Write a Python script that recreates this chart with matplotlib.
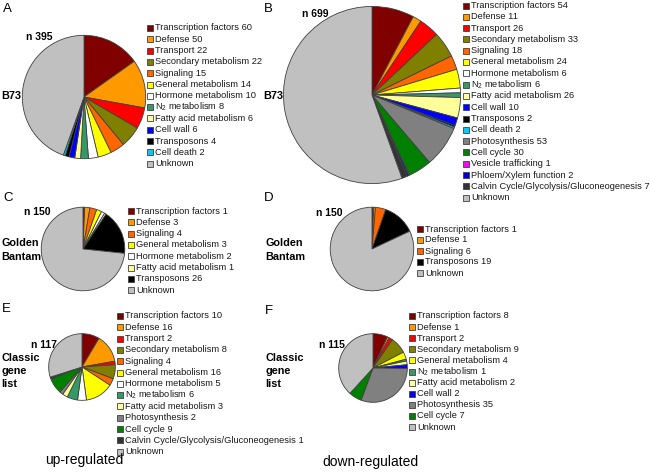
import matplotlib
matplotlib.use('Agg')
import matplotlib.pyplot as plt
from matplotlib.patches import Rectangle

plt.rcParams['font.family'] = ['Liberation Sans', 'DejaVu Sans']
plt.rcParams['mathtext.fontset'] = 'custom'
plt.rcParams['mathtext.rm'] = 'Liberation Sans'
plt.rcParams['mathtext.it'] = 'Liberation Sans:italic'
plt.rcParams['mathtext.bf'] = 'Liberation Sans:bold'

W, H = 650, 472

# ---------------- data ----------------
a_cats = ['Transcription factors', 'Defense', 'Transport', 'Secondary metabolism', 'Signaling',
          'General metabolism', 'Hormone metabolism', 'N2 metabolism', 'Fatty acid metabolism',
          'Cell wall', 'Transposons', 'Cell death']
a_vals = [60, 50, 22, 22, 15, 14, 10, 8, 6, 6, 4, 2]
a_n = 395

b_cats = ['Transcription factors', 'Defense', 'Transport', 'Secondary metabolism', 'Signaling',
          'General metabolism', 'Hormone metabolism', 'N2 metabolism', 'Fatty acid metabolism',
          'Cell wall', 'Transposons', 'Cell death', 'Photosynthesis', 'Cell cycle',
          'Vesicle trafficking', 'Phloem/Xylem function', 'Calvin Cycle/Glycolysis/Gluconeogenesis']
b_vals = [54, 11, 26, 33, 18, 24, 6, 6, 26, 10, 2, 2, 53, 30, 1, 2, 7]
b_n = 699

c_cats = ['Transcription factors', 'Defense', 'Signaling', 'General metabolism', 'Hormone metabolism',
          'Fatty acid metabolism', 'Transposons']
c_vals = [1, 3, 4, 3, 2, 1, 26]
c_n = 150

d_cats = ['Transcription factors', 'Defense', 'Signaling', 'Transposons']
d_vals = [1, 1, 6, 19]
d_n = 150

e_cats = ['Transcription factors', 'Defense', 'Transport', 'Secondary metabolism', 'Signaling',
          'General metabolism', 'Hormone metabolism', 'N2 metabolism', 'Fatty acid metabolism',
          'Photosynthesis', 'Cell cycle', 'Calvin Cycle/Glycolysis/Gluconeogenesis']
e_vals = [10, 16, 2, 8, 4, 16, 5, 6, 3, 2, 9, 1]
e_n = 117

f_cats = ['Transcription factors', 'Defense', 'Transport', 'Secondary metabolism', 'General metabolism',
          'N2 metabolism', 'Fatty acid metabolism', 'Cell wall', 'Photosynthesis', 'Cell cycle']
f_vals = [8, 1, 2, 9, 4, 1, 2, 2, 35, 7]
f_n = 115

panel_letters = ['A', 'B', 'C', 'D', 'E', 'F']
row_labels = [['B73'], ['B73'], ['Golden', 'Bantam'], ['Golden', 'Bantam'],
              ['Classic', 'gene', 'list'], ['Classic', 'gene', 'list']]
col_labels = ['up-regulated', 'down-regulated']

# ---------------- styles ----------------
cat_colors = {
    'Transcription factors': '#800000',
    'Defense': '#FF9900',
    'Transport': '#FF0000',
    'Secondary metabolism': '#808000',
    'Signaling': '#FF6600',
    'General metabolism': '#FFFF00',
    'Hormone metabolism': '#FFFFFF',
    'N2 metabolism': '#339966',
    'Fatty acid metabolism': '#FFFF99',
    'Cell wall': '#0000FF',
    'Transposons': '#000000',
    'Cell death': '#00CCFF',
    'Photosynthesis': '#808080',
    'Cell cycle': '#008000',
    'Vesicle trafficking': '#FF00FF',
    'Phloem/Xylem function': '#0000CC',
    'Calvin Cycle/Glycolysis/Gluconeogenesis': '#333333',
    'Unknown': '#C0C0C0',
}
EDGE = '#404040'

# layout in pixels (top-left origin)
layout = [
    dict(pie=(84, 97, 62), leg=(147, 28, 11.3), letter=(3, 9), nlab=(52, 37), rlab=(1, 96, 14)),
    dict(pie=(372, 95, 89), leg=(463, 5.5, 11.3), letter=(264, 9), nlab=(329, 14), rlab=(263, 96, 14)),
    dict(pie=(83, 249, 42), leg=(128, 211, 11.3), letter=(3, 198), nlab=(51, 212), rlab=(1, 243, 14)),
    dict(pie=(372, 249, 42), leg=(417, 229, 11.0), letter=(264, 198), nlab=(343, 213), rlab=(265, 243, 14)),
    dict(pie=(82, 367, 33.5), leg=(117, 316, 11.3), letter=(2, 309), nlab=(57, 345), rlab=(1, 358, 12.8)),
    dict(pie=(373, 368, 34.5), leg=(409, 316, 11.1), letter=(265, 311), nlab=(345, 345), rlab=(265, 358, 12.8)),
]
col_pos = [(45, 460), (322, 462)]

panels = [(a_cats, a_vals, a_n), (b_cats, b_vals, b_n), (c_cats, c_vals, c_n),
          (d_cats, d_vals, d_n), (e_cats, e_vals, e_n), (f_cats, f_vals, f_n)]


def disp(cat):
    return cat.replace('N2', 'N$_{2}$')


fig = plt.figure(figsize=(W / 100, H / 100), dpi=100)
ov = fig.add_axes([0, 0, 1, 1])
ov.set_xlim(0, W)
ov.set_ylim(H, 0)
ov.axis('off')

for (cats, vals, n), lay, letter, rlab in zip(panels, layout, panel_letters, row_labels):
    all_cats = cats + ['Unknown']
    all_vals = vals + [n - sum(vals)]
    cols = [cat_colors[c] for c in all_cats]
    cx, cy, r = lay['pie']
    ax = fig.add_axes([(cx - r) / W, 1 - (cy + r) / H, 2 * r / W, 2 * r / H])
    ax.pie(all_vals, colors=cols, startangle=90, counterclock=False,
           wedgeprops=dict(edgecolor=EDGE, linewidth=0.6))
    ax.set_xlim(-1.005, 1.005)
    ax.set_ylim(-1.005, 1.005)

    # legend
    mx, y0, dy = lay['leg']
    s = 6.0
    for i, (c, v) in enumerate(zip(all_cats, all_vals)):
        y = y0 + i * dy
        ov.add_patch(Rectangle((mx, y - s / 2), s, s, facecolor=cat_colors[c],
                               edgecolor=EDGE, linewidth=0.6))
        lab = disp(c) if c == 'Unknown' else f'{disp(c)} {v}'
        ov.text(mx + s + 2, y, lab, fontsize=6.7, va='center', ha='left', color='#1a1a1a')

    lx, ly = lay['letter']
    ov.text(lx, ly, letter, fontsize=9.5, va='center', ha='left')
    nx, ny = lay['nlab']
    ov.text(nx, ny, f'n {n}', fontsize=7.5, fontweight='bold', va='center', ha='right')
    rx, ry, rdy = lay['rlab']
    for j, line in enumerate(rlab):
        ov.text(rx, ry + j * rdy, line, fontsize=7.8, fontweight='bold', va='center', ha='left')

for (x, y), t in zip(col_pos, col_labels):
    ov.text(x, y, t, fontsize=10, va='center', ha='left')

fig.savefig('out.png', dpi=100)
